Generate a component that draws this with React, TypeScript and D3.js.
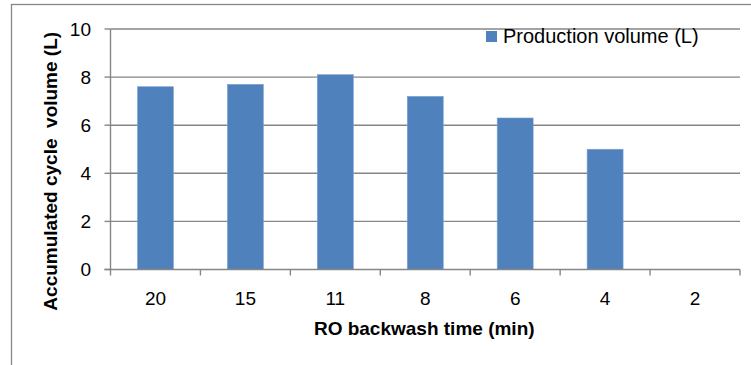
import React from "react";
import * as d3 from "d3";

const categories = ["20", "15", "11", "8", "6", "4", "2"];
const productionVolume = [7.6, 7.7, 8.1, 7.2, 6.3, 5.0, 0];
const yTicks = [0, 2, 4, 6, 8, 10];
const seriesName = "Production volume (L)";
const xTitle = "RO backwash time (min)";
const yTitle = "Accumulated cycle\u00a0 volume (L)";

const W = 751;
const H = 365;
const plot = { left: 110.5, right: 740, top: 29, bottom: 269.5 };
const axisColor = "#868686";
const barColor = "#4F81BD";
const font = "'Liberation Sans', Arial, sans-serif";

export default function App() {
  const x = d3
    .scaleBand<string>()
    .domain(categories)
    .range([plot.left, plot.right])
    .paddingInner(0)
    .paddingOuter(0);
  const y = d3.scaleLinear().domain([0, 10]).range([plot.bottom, plot.top]);
  const barW = x.bandwidth() * 0.4;

  return (
    <svg
      width={W}
      height={H}
      style={{ position: "absolute", left: 0, top: 0, background: "#fff" }}
      fontFamily={font}
    >
      {/* chart frame */}
      <rect x={11.5} y={4.5} width={900} height={500} fill="none" stroke={axisColor} strokeWidth={1.3} />

      {/* horizontal gridlines */}
      {yTicks.filter((t) => t > 0).map((t) => (
        <line key={t} x1={plot.left} x2={plot.right} y1={y(t)} y2={y(t)} stroke={axisColor} strokeWidth={1.4} />
      ))}

      {/* bars */}
      {categories.map((c, i) => {
        const v = productionVolume[i];
        if (v <= 0) return null;
        const cx = (x(c) as number) + x.bandwidth() / 2;
        return (
          <rect
            key={c}
            x={cx - barW / 2}
            y={y(v)}
            width={barW}
            height={y(0) - y(v)}
            fill={barColor}
            stroke="#7EA3D3"
            strokeWidth={0.6}
          />
        );
      })}

      {/* y axis */}
      <line x1={plot.left} x2={plot.left} y1={plot.top} y2={plot.bottom} stroke={axisColor} strokeWidth={1.4} />
      {yTicks.map((t) => (
        <g key={t}>
          <line x1={plot.left - 6} x2={plot.left} y1={y(t)} y2={y(t)} stroke={axisColor} strokeWidth={1.4} />
          <text x={91} y={y(t)} dy="0.36em" textAnchor="end" fontSize={19} fill="#000">
            {t}
          </text>
        </g>
      ))}

      {/* x axis */}
      <line x1={plot.left - 6} x2={plot.right} y1={plot.bottom} y2={plot.bottom} stroke={axisColor} strokeWidth={1.4} />
      {categories.map((c) => (
        <line
          key={"t" + c}
          x1={(x(c) as number) + x.bandwidth()}
          x2={(x(c) as number) + x.bandwidth()}
          y1={plot.bottom}
          y2={plot.bottom + 6}
          stroke={axisColor}
          strokeWidth={1.4}
        />
      ))}
      <line x1={plot.left} x2={plot.left} y1={plot.bottom} y2={plot.bottom + 6} stroke={axisColor} strokeWidth={1.4} />
      {categories.map((c) => (
        <text
          key={"l" + c}
          x={(x(c) as number) + x.bandwidth() / 2}
          y={305}
          textAnchor="middle"
          fontSize={19}
          fill="#000"
        >
          {c}
        </text>
      ))}

      {/* axis titles */}
      <text x={(plot.left + plot.right) / 2 - 1} y={335} textAnchor="middle" fontSize={19} fontWeight="bold" fill="#000">
        {xTitle}
      </text>
      <text
        transform={`translate(57,${(plot.top + plot.bottom) / 2 + 22}) rotate(-90)`}
        textAnchor="middle"
        fontSize={19}
        fontWeight="bold"
        fill="#000"
      >
        {yTitle}
      </text>

      {/* legend */}
      <rect x={486} y={31} width={11} height={11} fill={barColor} />
      <text x={503} y={43} fontSize={20} fill="#000">
        {seriesName}
      </text>
    </svg>
  );
}
